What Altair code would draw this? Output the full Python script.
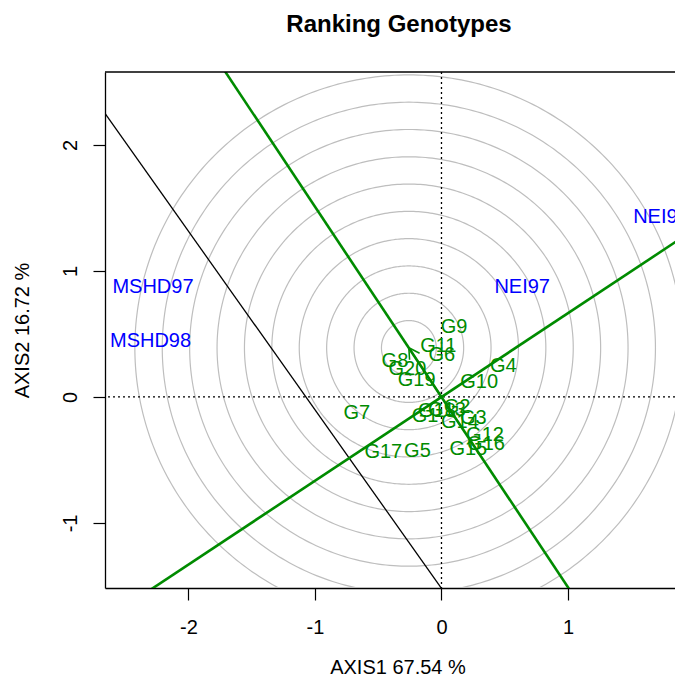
import numpy as np
import pandas as pd
import altair as alt

# ---------------- data ----------------
genotypes = ["G1", "G2", "G3", "G4", "G5", "G6", "G7", "G8", "G9", "G10",
             "G11", "G12", "G13", "G14", "G15", "G16", "G17", "G18", "G19", "G20"]
gen_x = [-0.130, 0.123, 0.251, 0.489, -0.190, 0.002, -0.670, -0.368, 0.100, 0.298,
         -0.025, 0.344, 0.043, 0.146, 0.212, 0.352, -0.460, -0.036, -0.196, -0.269]
gen_y = [-0.153, -0.079, -0.163, 0.244, -0.427, 0.333, -0.127, 0.287, 0.552, 0.121,
         0.402, -0.302, -0.103, -0.202, -0.414, -0.373, -0.438, -0.111, 0.135, 0.221]

environments = ["MSHD97", "MSHD98", "NEI97", "NEI98"]
env_x = [-2.281, -2.300, 0.638, 1.735]
env_y = [0.869, 0.448, 0.875, 1.425]

# ideal-genotype point (centre of the concentric circles) and ring spacing
ideal_x, ideal_y = -0.258, 0.390
ring_step = 0.2166
ring_count = 10

# straight lines (slope, intercept)
green_slopes = [-1.51, 0.665]
black_slope, black_intercept = -1.417, -1.519

x_ticks = [-2, -1, 0, 1]
y_ticks = [-1, 0, 1, 2]
x_domain = [-2.660, 1.846]
y_domain = [-1.516, 2.579]

title_text = "Ranking Genotypes"
x_title = "AXIS1 67.54 %"
y_title = "AXIS2 16.72 %"

GREEN = "#008B00"
BLUE = "#0000FF"
FONT = "Liberation Sans"
W, H = 570, 516

# ---------------- derived tables ----------------
theta = np.linspace(0, 2 * np.pi, 361)
ring_rows = []
for k in range(1, ring_count + 1):
    r = k * ring_step
    for i, t in enumerate(theta):
        ring_rows.append({"ring": k, "i": i,
                          "x": ideal_x + r * np.cos(t),
                          "y": ideal_y + r * np.sin(t)})
rings = pd.DataFrame(ring_rows)

xe = [x_domain[0] - 1, x_domain[1] + 1]
green_rows = []
for j, s in enumerate(green_slopes):
    for i, xv in enumerate(xe):
        green_rows.append({"line": j, "i": i, "x": xv, "y": s * xv})
green_lines = pd.DataFrame(green_rows)
black_line = pd.DataFrame({"line": [0, 0], "i": [0, 1], "x": xe,
                           "y": [black_slope * v + black_intercept for v in xe]})

# arrow from origin to ideal point (head at the ideal point)
L = np.hypot(ideal_x, ideal_y)
ux, uy = -ideal_x / L, -ideal_y / L
head = 0.095
arrow_rows = [{"seg": 0, "i": 0, "x": 0.0, "y": 0.0},
              {"seg": 0, "i": 1, "x": ideal_x, "y": ideal_y}]
for sgn, seg in ((1, 1), (-1, 2)):
    a = sgn * np.pi / 6
    wx = ux * np.cos(a) - uy * np.sin(a)
    wy = ux * np.sin(a) + uy * np.cos(a)
    arrow_rows.append({"seg": seg, "i": 0, "x": ideal_x, "y": ideal_y})
    arrow_rows.append({"seg": seg, "i": 1, "x": ideal_x + head * wx, "y": ideal_y + head * wy})
arrow = pd.DataFrame(arrow_rows)

gen_df = pd.DataFrame({"label": genotypes, "x": gen_x, "y": gen_y})
env_df = pd.DataFrame({"label": environments, "x": env_x, "y": env_y})

# ---------------- scales / axes ----------------
hyphen_labels = "datum.value < 0 ? '-' + abs(datum.value) : '' + datum.value"
xscale = alt.Scale(domain=x_domain, nice=False, zero=False)
yscale = alt.Scale(domain=y_domain, nice=False, zero=False)
xaxis = alt.Axis(values=x_ticks, title=x_title, grid=False, tickSize=12,
                 labelPadding=27, labelBaseline="middle", labelAlign="center",
                 labelExpr=hyphen_labels,
                 titleX=292.5, titleY=79, titleBaseline="middle", titleAlign="center",
                 labelFlush=False, labelOverlap=False)
yaxis = alt.Axis(values=y_ticks, title=y_title, grid=False, tickSize=12,
                 labelPadding=23, labelAngle=270, labelBaseline="middle", labelAlign="center",
                 labelExpr=hyphen_labels,
                 titleAngle=270, titleX=-83, titleY=258, titleBaseline="middle",
                 titleAlign="center", labelFlush=False, labelOverlap=False)


def X(f="x"):
    return alt.X(f"{f}:Q", scale=xscale, axis=xaxis)


def Y(f="y"):
    return alt.Y(f"{f}:Q", scale=yscale, axis=yaxis)


ring_layer = alt.Chart(rings).mark_line(color="#BEBEBE", strokeWidth=1.2, clip=True).encode(
    x=X(), y=Y(), detail="ring:N", order="i:Q")

vdot = alt.Chart(pd.DataFrame({"x": [0.0]})).mark_rule(
    color="black", strokeWidth=1.3, strokeDash=[2, 3]).encode(x=X())
hdot = alt.Chart(pd.DataFrame({"y": [0.0]})).mark_rule(
    color="black", strokeWidth=1.3, strokeDash=[2, 3]).encode(y=Y())

top_border = alt.Chart(pd.DataFrame({"y": [y_domain[1]]})).mark_rule(
    color="black", strokeWidth=1.3).encode(y=Y())

black_layer = alt.Chart(black_line).mark_line(color="black", strokeWidth=1.3, clip=True).encode(
    x=X(), y=Y(), detail="line:N", order="i:Q")
green_layer = alt.Chart(green_lines).mark_line(color=GREEN, strokeWidth=2.6, clip=True).encode(
    x=X(), y=Y(), detail="line:N", order="i:Q")
arrow_layer = alt.Chart(arrow).mark_line(color=GREEN, strokeWidth=1.6, clip=True).encode(
    x=X(), y=Y(), detail="seg:N", order="i:Q")

gen_layer = alt.Chart(gen_df).mark_text(
    font=FONT, fontSize=20, color=GREEN, align="center", baseline="middle").encode(
    x=X(), y=Y(), text="label:N")
env_layer = alt.Chart(env_df).mark_text(
    font=FONT, fontSize=20, color=BLUE, align="center", baseline="middle").encode(
    x=X(), y=Y(), text="label:N")

chart = alt.layer(
    ring_layer, vdot, hdot, black_layer, green_layer, arrow_layer, gen_layer, env_layer, top_border
).properties(
    width=W, height=H,
    autosize="none",
    padding={"left": 97, "top": 64, "right": 0, "bottom": 88},
    background="white",
    title=alt.TitleParams(title_text, font=FONT, fontSize=24, fontWeight="bold",
                          color="black", anchor="middle", offset=34, dx=9, frame="group"),
).configure_view(stroke=None).configure_axis(
    domainColor="black", domainWidth=1.3, tickColor="black", tickWidth=1.2,
    labelFont=FONT, labelFontSize=20, labelColor="black",
    titleFont=FONT, titleFontSize=20, titleFontWeight="normal", titleColor="black",
)

chart.save("out.html", embed_options={"renderer": "svg", "actions": False})
